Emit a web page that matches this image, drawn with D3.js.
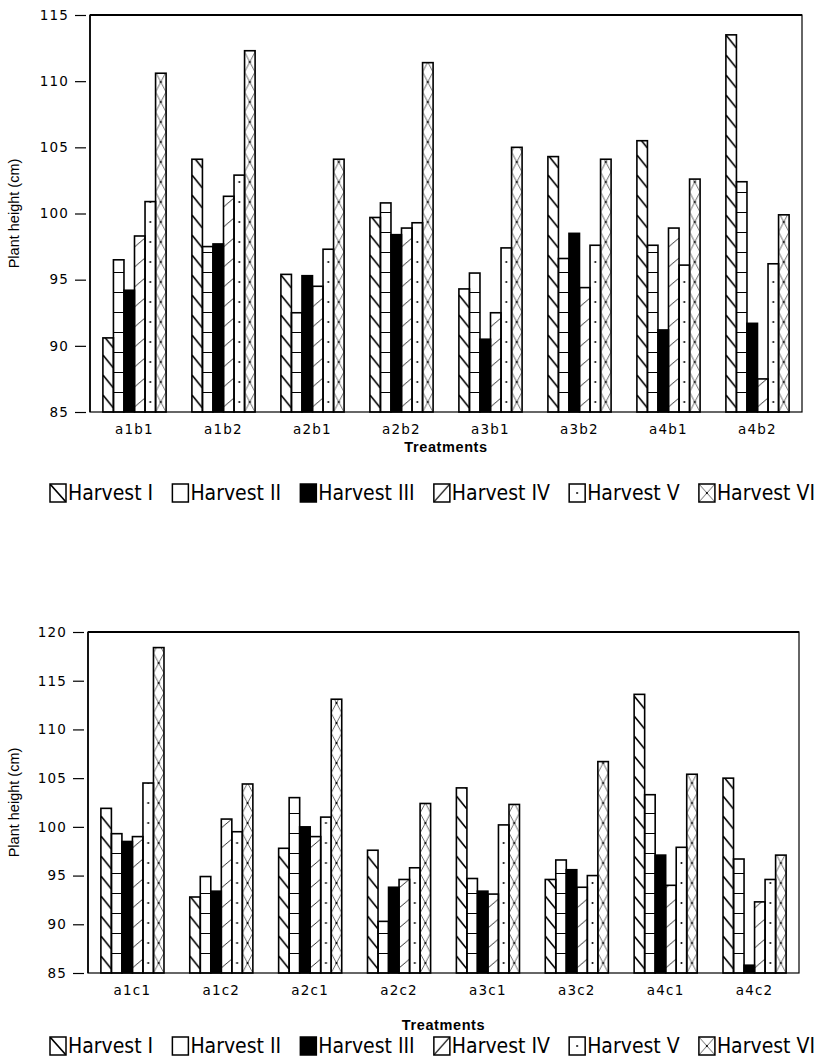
<!DOCTYPE html>
<html lang="en">
<head>
<meta charset="UTF-8">
<title>Plant height per treatment and harvest</title>
<script src="https://cdn.jsdelivr.net/npm/d3@7"></script>
<style>
  body { margin: 0; background: #fff; }
  svg { display: block; }
  .tick text { font-family: "DejaVu Sans", sans-serif; font-size: 13.5px; letter-spacing: 1.2px; fill: #000; }
  .tick line { stroke: #000; stroke-width: 1.2; }
</style>
</head>
<body>
<div id="chart"></div>
<script>
// harvests (series)
const harvests = ["Harvest I", "Harvest II", "Harvest III", "Harvest IV", "Harvest V", "Harvest VI"];

// top panel: a x b treatments, one value per harvest
const treatmentsB = ["a1b1", "a1b2", "a2b1", "a2b2", "a3b1", "a3b2", "a4b1", "a4b2"];
const heightsB = [
  [90.6, 96.5, 94.2, 98.3, 100.9, 110.6],
  [104.1, 97.5, 97.7, 101.3, 102.9, 112.3],
  [95.4, 92.5, 95.3, 94.5, 97.3, 104.1],
  [99.7, 100.8, 98.4, 98.9, 99.3, 111.4],
  [94.3, 95.5, 90.5, 92.5, 97.4, 105.0],
  [104.3, 96.6, 98.5, 94.4, 97.6, 104.1],
  [105.5, 97.6, 91.2, 98.9, 96.1, 102.6],
  [113.5, 102.4, 91.7, 87.5, 96.2, 99.9]
];
const ticksB = [85, 90, 95, 100, 105, 110, 115];

// bottom panel: a x c treatments
const treatmentsC = ["a1c1", "a1c2", "a2c1", "a2c2", "a3c1", "a3c2", "a4c1", "a4c2"];
const heightsC = [
  [101.9, 99.3, 98.5, 99.0, 104.5, 118.4],
  [92.8, 94.9, 93.4, 100.8, 99.5, 104.4],
  [97.8, 103.0, 100.0, 99.0, 101.0, 113.1],
  [97.6, 90.3, 93.8, 94.6, 95.8, 102.4],
  [104.0, 94.7, 93.4, 93.1, 100.2, 102.3],
  [94.6, 96.6, 95.6, 93.8, 95.0, 106.7],
  [113.6, 103.3, 97.1, 94.0, 97.9, 105.4],
  [105.0, 96.7, 85.8, 92.3, 94.6, 97.1]
];
const ticksC = [85, 90, 95, 100, 105, 110, 115, 120];

const width = 823, height = 1063;
const svg = d3.select("#chart").append("svg").attr("width", width).attr("height", height);
const defs = svg.append("defs");

// fill for one harvest inside a tile of size w x h
function drawTile(p, hi, w, h, legend) {
  if (hi === 0) {
    if (legend) p.append("line").attr("x1", 0).attr("y1", 0).attr("x2", w).attr("y2", h);
    else p.append("line").attr("x1", 0).attr("y1", 3).attr("x2", w).attr("y2", 16);
    p.selectAll("line").attr("stroke", "#000").attr("stroke-width", 1.6);
  } else if (hi === 1) {
    if (!legend) p.append("line").attr("x1", 0).attr("y1", 0.5).attr("x2", w).attr("y2", 0.5)
      .attr("stroke", "#000").attr("stroke-width", 1);
  } else if (hi === 2) {
    p.append("rect").attr("width", w).attr("height", h).attr("fill", "#000");
  } else if (hi === 3) {
    if (legend) p.append("line").attr("x1", 0).attr("y1", h).attr("x2", w).attr("y2", 0);
    else p.append("line").attr("x1", 0).attr("y1", 15).attr("x2", w).attr("y2", 6);
    p.selectAll("line").attr("stroke", "#222").attr("stroke-width", legend ? 1.4 : 0.9);
  } else if (hi === 4) {
    p.append("circle").attr("cx", w * 0.5).attr("cy", h * 0.5).attr("r", 1).attr("fill", "#000");
  } else {
    p.append("line").attr("x1", 0).attr("y1", 0).attr("x2", w).attr("y2", h);
    p.append("line").attr("x1", w).attr("y1", 0).attr("x2", 0).attr("y2", h);
    p.selectAll("line").attr("stroke", "#444").attr("stroke-width", 0.8);
    p.append("circle").attr("cx", w / 2).attr("cy", h / 2).attr("r", 1.1).attr("fill", "#000");
  }
}

function drawPanel(cfg) {
  const { id, treatments, values, ticks, left, right, top, bottom, labelY, titleY, legendY } = cfg;

  const x0 = d3.scaleBand().domain(treatments).range([left, right])
    .paddingInner(0.29).paddingOuter(0.145);
  const x1 = d3.scaleBand().domain(d3.range(harvests.length)).range([0, x0.bandwidth()]);
  const y = d3.scaleLinear().domain([d3.min(ticks), d3.max(ticks)]).range([bottom, top]);
  const bw = x1.bandwidth();

  const g = svg.append("g");

  // one pattern per bar so hatching lines up with each bar
  treatments.forEach((t, gi) => {
    harvests.forEach((h, hi) => {
      const pat = defs.append("pattern")
        .attr("id", `p-${id}-${gi}-${hi}`)
        .attr("patternUnits", "userSpaceOnUse")
        .attr("x", x0(t) + x1(hi)).attr("y", bottom)
        .attr("width", bw).attr("height", 20);
      drawTile(pat, hi, bw, 20, false);
    });
  });

  const groups = g.selectAll(".grp")
    .data(treatments.map((t, gi) => ({ t, gi, vals: values[gi] })))
    .join("g").attr("class", "grp");

  groups.selectAll("rect")
    .data(d => d.vals.map((v, hi) => ({ t: d.t, gi: d.gi, hi, v })))
    .join("rect")
    .attr("x", d => x0(d.t) + x1(d.hi))
    .attr("y", d => y(d.v))
    .attr("width", bw)
    .attr("height", d => bottom - y(d.v))
    .attr("fill", d => `url(#p-${id}-${d.gi}-${d.hi})`)
    .attr("stroke", "#000")
    .attr("stroke-width", 1.6);

  // frame, top edge a bit heavier like the scan
  g.append("rect")
    .attr("x", left).attr("y", top)
    .attr("width", right - left).attr("height", bottom - top)
    .attr("fill", "none").attr("stroke", "#000").attr("stroke-width", 1.2);
  g.append("line")
    .attr("x1", left).attr("x2", right).attr("y1", top).attr("y2", top)
    .attr("stroke", "#000").attr("stroke-width", 2);
  g.append("line")
    .attr("x1", left).attr("x2", left).attr("y1", top).attr("y2", bottom)
    .attr("stroke", "#000").attr("stroke-width", 1.6);

  // y axis
  const yAxis = g.append("g")
    .attr("transform", `translate(${left - 4},0)`)
    .call(d3.axisLeft(y).tickValues(ticks).tickSize(11).tickPadding(6));
  yAxis.select(".domain").remove();

  g.append("text")
    .attr("transform", `translate(19,${(top + bottom) / 2}) rotate(-90)`)
    .attr("text-anchor", "middle")
    .attr("font-family", "Liberation Sans, Arial, sans-serif")
    .attr("font-size", 14.5)
    .text("Plant height (cm)");

  // x labels
  const xAxis = g.append("g")
    .attr("transform", `translate(0,${labelY})`)
    .call(d3.axisBottom(x0).tickSize(0).tickPadding(0));
  xAxis.select(".domain").remove();

  g.append("text")
    .attr("x", (left + right) / 2).attr("y", titleY)
    .attr("text-anchor", "middle")
    .attr("font-family", "Liberation Sans, Arial, sans-serif")
    .attr("font-weight", "bold")
    .attr("font-size", 14.5)
    .attr("letter-spacing", 0.6)
    .text("Treatments");

  // legend
  const boxW = 16, boxH = 18, gapBox = 2;
  const leg = g.append("g");
  const items = leg.selectAll("g").data(harvests).join("g");
  items.append("text")
    .attr("font-family", "Liberation Sans Narrow, DejaVu Sans Condensed, sans-serif")
    .attr("font-size", 21)
    .attr("y", legendY)
    .text(d => d);
  const widths = [];
  items.select("text").each(function () { widths.push(this.getComputedTextLength()); });
  const legLeft = cfg.legendLeft, legRight = cfg.legendRight;
  const used = d3.sum(widths) + harvests.length * (boxW + gapBox);
  const gap = (legRight - legLeft - used) / (harvests.length - 1);
  let cx = legLeft;
  items.each(function (d, hi) {
    const it = d3.select(this);
    const bx = cx;
    const pat = defs.append("pattern")
      .attr("id", `l-${id}-${hi}`)
      .attr("patternUnits", "userSpaceOnUse")
      .attr("x", bx).attr("y", legendY - boxH + 2)
      .attr("width", boxW).attr("height", boxH);
    drawTile(pat, hi, boxW, boxH, true);
    it.insert("rect", "text")
      .attr("x", bx).attr("y", legendY - boxH + 2)
      .attr("width", boxW).attr("height", boxH)
      .attr("fill", `url(#l-${id}-${hi})`)
      .attr("stroke", "#000").attr("stroke-width", 1.5);
    it.select("text").attr("x", bx + boxW + gapBox);
    cx += boxW + gapBox + widths[hi] + gap;
  });
}

drawPanel({
  id: "b", treatments: treatmentsB, values: heightsB, ticks: ticksB,
  left: 90, right: 802, top: 15, bottom: 412,
  labelY: 424, titleY: 452, legendY: 500, legendLeft: 50, legendRight: 815
});

drawPanel({
  id: "c", treatments: treatmentsC, values: heightsC, ticks: ticksC,
  left: 88, right: 799, top: 632, bottom: 973,
  labelY: 985, titleY: 1030, legendY: 1053, legendLeft: 50, legendRight: 815
});
</script>
</body>
</html>
